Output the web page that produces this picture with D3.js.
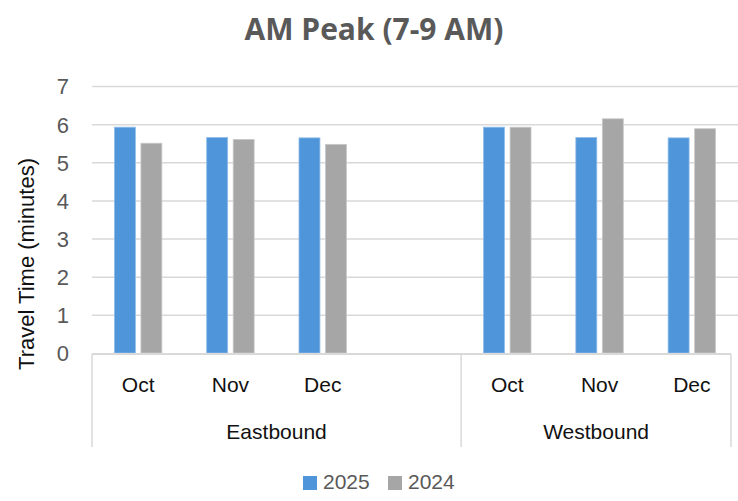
<!DOCTYPE html>
<html>
<head>
<meta charset="utf-8">
<script src="https://cdn.jsdelivr.net/npm/d3@7"></script>
<style>
  html, body { margin: 0; padding: 0; background: #fff; }
  svg { display: block; }
</style>
</head>
<body>
<svg id="chart" width="738" height="501"></svg>
<script>
const title = "AM Peak (7-9 AM)";
const yTitle = "Travel Time (minutes)";
const groups = ["Eastbound", "Westbound"];
const months = ["Oct", "Nov", "Dec", "", "Oct", "Nov", "Dec"];
const slotGroup = [0, 0, 0, 0, 1, 1, 1];
const seriesNames = ["2025", "2024"];
const values2025 = [5.92, 5.65, 5.64, null, 5.92, 5.65, 5.64];
const values2024 = [5.50, 5.60, 5.47, null, 5.92, 6.14, 5.88];
const yTicks = [0, 1, 2, 3, 4, 5, 6, 7];
const colors = ["#4E95D9", "#A6A6A6"];

(function () {
const svg = d3.select("#chart");
const mLeft = 92, mRight = 738, mTop = 86, mBottom = 353;
const axisRight = 731;
const labelFont = "'Liberation Sans', Arial, sans-serif";

const x = d3.scaleBand().domain(d3.range(months.length)).range([mLeft, mRight]).paddingInner(0).paddingOuter(0);
const y = d3.scaleLinear().domain([0, 7]).range([mBottom, mTop]);
const inner = d3.scaleBand().domain(seriesNames).range([0, x.bandwidth()]).paddingInner(0.21).paddingOuter(0.846);

// title
svg.append("text")
  .attr("x", 374).attr("y", 40)
  .attr("text-anchor", "middle")
  .attr("font-family", "'Open Sans', sans-serif")
  .attr("font-weight", 700)
  .attr("font-size", 30)
  .attr("fill", "#595959")
  .text(title);

// gridlines
const yAxis = d3.axisLeft(y).tickValues(yTicks.filter(d => d > 0)).tickSize(-(mRight - mLeft)).tickFormat("");
const ga = svg.append("g").attr("transform", `translate(${mLeft},0)`).call(yAxis);
ga.select(".domain").remove();
ga.selectAll("line").attr("stroke", "#D9D9D9").attr("stroke-width", 1.5);

// y tick labels
const yl = d3.axisLeft(y).tickValues(yTicks).tickFormat(d3.format("d")).tickSize(0).tickPadding(0);
const gl = svg.append("g").attr("transform", `translate(${mLeft - 23},0)`).call(yl);
gl.select(".domain").remove();
gl.selectAll("text")
  .attr("font-family", labelFont)
  .attr("font-size", 22)
  .attr("fill", "#595959")
  .attr("dy", "0.36em");

// bars
const seriesData = [values2025, values2024];
seriesData.forEach((vals, si) => {
  svg.append("g").selectAll("rect")
    .data(vals.map((v, i) => ({ v, i })).filter(d => d.v != null))
    .join("rect")
    .attr("x", d => x(d.i) + inner(seriesNames[si]))
    .attr("width", inner.bandwidth())
    .attr("y", d => y(d.v))
    .attr("height", d => y(0) - y(d.v))
    .attr("fill", colors[si])
    .attr("stroke", si === 0 ? "#8FBCE8" : "#C8C8C8")
    .attr("stroke-width", 0.8);
});

// category axis line
svg.append("line")
  .attr("x1", mLeft).attr("x2", axisRight)
  .attr("y1", y(0) + 1).attr("y2", y(0) + 1)
  .attr("stroke", "#D9D9D9").attr("stroke-width", 2);

// group separators
const groupBounds = [mLeft, x(4), axisRight];
svg.append("g").selectAll("line")
  .data(groupBounds)
  .join("line")
  .attr("x1", d => d).attr("x2", d => d)
  .attr("y1", y(0) + 1).attr("y2", 447)
  .attr("stroke", "#D9D9D9").attr("stroke-width", 1.5);

// month labels
svg.append("g").selectAll("text")
  .data(months.map((m, i) => ({ m, i })).filter(d => d.m))
  .join("text")
  .attr("x", d => x(d.i) + x.bandwidth() / 2)
  .attr("y", 392)
  .attr("text-anchor", "middle")
  .attr("font-family", labelFont)
  .attr("font-size", 21)
  .attr("fill", "#111")
  .text(d => d.m);

// group labels
svg.append("g").selectAll("text")
  .data(groups.map((g, gi) => {
    const idx = d3.range(months.length).filter(i => slotGroup[i] === gi);
    const x0 = gi === 0 ? mLeft : x(idx[0]);
    const x1 = gi === groups.length - 1 ? axisRight : x(idx[idx.length - 1]) + x.bandwidth();
    return { g, cx: (x0 + x1) / 2 };
  }))
  .join("text")
  .attr("x", d => d.cx)
  .attr("y", 439)
  .attr("text-anchor", "middle")
  .attr("font-family", labelFont)
  .attr("font-size", 21)
  .attr("fill", "#111")
  .text(d => d.g);

// y title
svg.append("text")
  .attr("transform", `translate(34, 264) rotate(-90)`)
  .attr("text-anchor", "middle")
  .attr("font-family", labelFont)
  .attr("font-size", 22)
  .attr("fill", "#111")
  .text(yTitle);

// legend
const legendX = [303, 388];
const lg = svg.append("g");
seriesNames.forEach((s, i) => {
  lg.append("rect").attr("x", legendX[i]).attr("y", 476).attr("width", 14).attr("height", 14).attr("fill", colors[i]);
  lg.append("text").attr("x", legendX[i] + 20).attr("y", 489)
    .attr("font-family", labelFont).attr("font-size", 21).attr("fill", "#595959").text(s);
});
})();
</script>
</body>
</html>
